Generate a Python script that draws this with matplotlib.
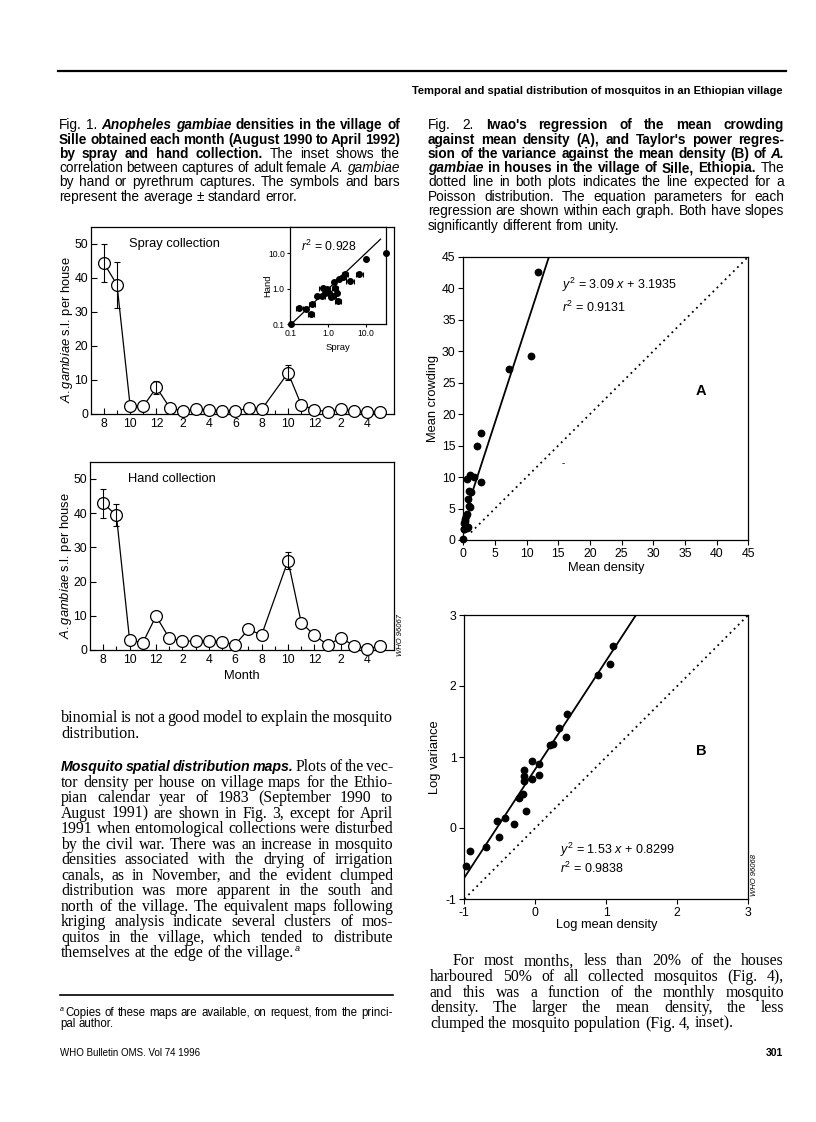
import matplotlib
matplotlib.use('Agg')
import matplotlib.pyplot as plt
from matplotlib.font_manager import FontProperties
from matplotlib.lines import Line2D
import numpy as np

# ---------------- data ----------------
# Fig. 1: month index 0 = August 1990 (September 1991 missing)
month_index = [0, 1, 2, 3, 4, 5, 6, 7, 8, 9, 10, 11, 12, 14, 15, 16, 17, 18, 19, 20, 21]
month_tick_pos = [0, 2, 4, 6, 8, 10, 12, 14, 16, 18, 20]
month_tick_labels = ['8', '10', '12', '2', '4', '6', '8', '10', '12', '2', '4']

spray_mean = [44.4, 38.0, 2.3, 2.3, 7.8, 1.9, 0.9, 1.4, 1.2, 1.0, 0.8, 1.8, 1.4,
              12.1, 2.7, 1.3, 0.6, 1.5, 0.8, 0.7, 0.7]
# standard errors (0 = bar hidden inside the symbol)
spray_se = [5.5, 6.7, 0, 0, 2.0, 0, 0, 0, 0, 0, 0, 0, 0,
            2.2, 0, 0, 0, 0, 0, 0, 0]

hand_mean = [42.9, 39.3, 2.9, 2.1, 9.9, 3.5, 2.6, 2.6, 2.7, 2.4, 1.6, 6.0, 4.4,
             26.1, 8.0, 4.3, 1.5, 3.5, 1.3, 0.4, 1.1]
hand_se = [4.2, 3.2, 0, 0, 0, 0, 0, 0, 0, 0, 0, 0, 0,
           2.4, 0, 0, 0, 0, 0, 0, 0]

# Fig. 1 inset (log-log, spray vs hand)
inset_spray = [0.1, 0.167, 0.25, 0.34, 0.36, 0.49, 0.67, 0.73, 0.82, 0.9, 1.06, 1.16,
               1.36, 1.54, 1.68, 1.85, 1.42, 1.97, 2.43, 2.86, 3.8, 6.8, 10.5, 35.0]
inset_hand = [0.1, 0.29, 0.27, 0.2, 0.37, 0.63, 0.63, 1.08, 0.75, 0.97, 0.75, 0.6,
              0.64, 1.08, 0.78, 0.46, 1.55, 1.85, 2.1, 2.56, 1.66, 2.56, 6.9, 10.0]
inset_err_factor = [1.0, 1.25, 1.0, 1.2, 1.2, 1.0, 1.25, 1.3, 1.0, 1.2, 1.0, 1.0,
                    1.15, 1.2, 1.0, 1.2, 1.0, 1.0, 1.2, 1.2, 1.25, 1.25, 1.0, 1.0]
inset_tick_vals = [0.1, 1.0, 10.0]
inset_tick_labels = ['0.1', '1.0', '10.0']

# Fig. 2A: Iwao's regression
A_density = [11.74, 10.68, 7.2, 2.74, 2.1, 2.74, 1.74, 1.05, 0.53, 0.9, 1.2, 0.68,
             0.95, 1.05, 0.63, 0.32, 0.16, 0.16, 0.79, 0.53, 0.0, 0.42, 0.26, 0.1]
A_crowding = [42.6, 29.2, 27.1, 17.05, 15.0, 9.2, 10.06, 10.4, 9.7, 7.8, 7.6, 6.46,
              5.45, 5.3, 4.2, 3.3, 2.65, 1.75, 2.1, 1.85, 0.16, 3.8, 3.0, 1.7]
A_slope, A_icpt = 3.09, 3.1935
A_ticks = [0, 5, 10, 15, 20, 25, 30, 35, 40, 45]

# Fig. 2B: Taylor's power law
B_logdensity = [1.089, 1.056, 0.878, 0.451, 0.432, 0.333, 0.254, 0.211, 0.052, 0.047,
                -0.047, -0.047, -0.164, -0.155, -0.164, -0.169, -0.225, -0.127, -0.305,
                -0.423, -0.540, -0.516, -0.690, -0.925, -0.977]
B_logvar = [2.563, 2.305, 2.160, 1.606, 1.286, 1.404, 1.183, 1.169, 0.897, 0.746,
            0.948, 0.690, 0.817, 0.737, 0.657, 0.474, 0.423, 0.239, 0.052,
            0.136, 0.099, -0.131, -0.263, -0.329, -0.535]
B_slope, B_icpt = 1.53, 0.8299
B_ticks = [-1, 0, 1, 2, 3]

# ---------------- setup ----------------
W, H = 816, 1122
plt.rcParams['font.family'] = ['Liberation Sans', 'DejaVu Sans']
plt.rcParams['mathtext.fontset'] = 'custom'
plt.rcParams['mathtext.rm'] = 'Liberation Sans'
plt.rcParams['mathtext.it'] = 'Liberation Sans:italic'
plt.rcParams['mathtext.bf'] = 'Liberation Sans:bold'
plt.rcParams['axes.linewidth'] = 0.9
plt.rcParams['axes.unicode_minus'] = False

fig = plt.figure(figsize=(W / 100, H / 100), dpi=100)
fig.patch.set_facecolor('white')
renderer = fig.canvas.get_renderer()


def ax_at(l, t, r, b):
    return fig.add_axes([l / W, 1 - b / H, (r - l) / W, (b - t) / H])


def hline(x0, x1, y, lw):
    fig.add_artist(Line2D([x0 / W, x1 / W], [1 - y / H, 1 - y / H],
                          transform=fig.transFigure, color='black', lw=lw))


def P(st, s, serif):
    use_serif = serif and 's' not in st
    if not use_serif and serif:
        s = s * 0.9
    fam = 'Liberation Serif' if use_serif else 'Liberation Sans'
    return FontProperties(family=fam, weight='bold' if 'b' in st else 'normal',
                          style='italic' if 'i' in st else 'normal', size=s)


def tw(t, st, s, serif):
    return renderer.get_text_width_height_descent(t, P(st, s, serif), ismath=False)[0]


def words(line):
    out = []
    for text, st in line:
        for w in text.split(' '):
            if w:
                out.append((w, st))
    return out


def draw_block(lines, x0, x1, centers, size, serif=False, indents=None, min_space=0.5):
    indents = indents or {}
    sp0 = tw('n n', 'n', size, serif) - tw('nn', 'n', size, serif)
    ratio = 1.0
    for k, line in enumerate(lines):
        ws = words(line)
        avail = x1 - x0 - indents.get(k, 0)
        nat = sum(tw(w, st, size, serif) for w, st in ws) + (len(ws) - 1) * min_space * sp0
        ratio = min(ratio, avail / nat)
    s = round(size * ratio, 2)
    sp = tw('n n', 'n', s, serif) - tw('nn', 'n', s, serif)
    end_x = x0
    for k, line in enumerate(lines):
        ws = words(line)
        xs = x0 + indents.get(k, 0)
        avail = x1 - xs
        wid = [tw(w, st, s, serif) for w, st in ws]
        last = (k == len(lines) - 1)
        if len(ws) > 1 and not last:
            gap = (avail - sum(wid)) / (len(ws) - 1)
        else:
            gap = sp
        base = centers[k] + 0.34 * s * 100 / 72
        x = xs
        for (w, st), wd in zip(ws, wid):
            fig.text(x / W, 1 - base / H, w, fontproperties=P(st, s, serif),
                     ha='left', va='baseline', color='black')
            x += wd + gap
        end_x = x - gap
    return s, end_x


def fit_text(text, st, x_right, x_left, y_base, size):
    w = tw(text, st, size, False)
    s = size * min(1.0, (x_right - x_left) / w)
    fig.text(x_right / W, 1 - y_base / H, text, fontproperties=P(st, s, False),
             ha='right', va='baseline')


# ---------------- page text ----------------
hline(58, 786, 71, 1.6)
fit_text('Temporal and spatial distribution of mosquitos in an Ethiopian village', 'b',
         783, 414, 94, 9.5)

cap1 = [
    [('Fig. 1.', 'n'), ('Anopheles gambiae', 'bi'), ('densities in the village of', 'b')],
    [('Sille obtained each month (August 1990 to April 1992)', 'b')],
    [('by spray and hand collection.', 'b'), ('The inset shows the', 'n')],
    [('correlation between captures of adult female', 'n'), ('A. gambiae', 'i')],
    [('by hand or pyrethrum captures. The symbols and bars', 'n')],
    [('represent the average \u00b1 standard error.', 'n')],
]
draw_block(cap1, 59, 400, [124.3, 139, 153.3, 167.7, 181.7, 196], 9.8, min_space=0.5)

cap2 = [
    [('Fig. 2.', 'n'), ("Iwao's regression of the mean crowding", 'b')],
    [("against mean density (A), and Taylor's power regres-", 'b')],
    [('sion of the variance against the mean density (B) of', 'b'), ('A.', 'bi')],
    [('gambiae', 'bi'), ('in houses in the village of Sille, Ethiopia.', 'b'), ('The', 'n')],
    [('dotted line in both plots indicates the line expected for a', 'n')],
    [('Poisson distribution. The equation parameters for each', 'n')],
    [('regression are shown within each graph. Both have slopes', 'n')],
    [('significantly different from unity.', 'n')],
]
draw_block(cap2, 428, 784, [124, 139, 153.3, 167.7, 181.7, 196, 210, 225], 9.8, min_space=0.5)

body1 = [
    [('binomial is not a good model to explain the mosquito', 'n')],
    [('distribution.', 'n')],
]
draw_block(body1, 61, 393, [717, 732.7], 11.6, serif=True, min_space=0.5)

body2 = [
    [('Mosquito spatial distribution maps.', 'sbi'), ('Plots of the vec-', 'n')],
    [('tor density per house on village maps for the Ethio-', 'n')],
    [('pian calendar year of 1983 (September 1990 to', 'n')],
    [('August 1991) are shown in Fig. 3, except for April', 'n')],
    [('1991 when entomological collections were disturbed', 'n')],
    [('by the civil war. There was an increase in mosquito', 'n')],
    [('densities associated with the drying of irrigation', 'n')],
    [('canals, as in November, and the evident clumped', 'n')],
    [('distribution was more apparent in the south and', 'n')],
    [('north of the village. The equivalent maps following', 'n')],
    [('kriging analysis indicate several clusters of mos-', 'n')],
    [('quitos in the village, which tended to distribute', 'n')],
    [('themselves at the edge of the village.', 'n')],
]
c2 = [765.7 + 15.5 * k for k in range(len(body2))]
bsize, bend = draw_block(body2, 61, 393, c2, 11.6, serif=True, min_space=0.5)
fig.text((bend + 1) / W, 1 - (c2[-1] - 1) / H, 'a', fontproperties=P('i', 6.5, False),
         ha='left', va='baseline')

body3 = [
    [('For most months, less than 20% of the houses', 'n')],
    [('harboured 50% of all collected mosquitos (Fig. 4),', 'n')],
    [('and this was a function of the monthly mosquito', 'n')],
    [('density. The larger the mean density, the less', 'n')],
    [('clumped the mosquito population (Fig. 4, inset).', 'n')],
]
draw_block(body3, 430, 784, [960 + 15.6 * k for k in range(5)], bsize, serif=True,
           indents={0: 23}, min_space=0.5)

hline(60, 393, 995, 1.2)
fig.text(60 / W, 1 - 1011 / H, 'a', fontproperties=P('i', 5, False), ha='left', va='baseline')
foot = [
    [('Copies of these maps are available, on request, from the princi-', 'n')],
    [('pal author.', 'n')],
]
draw_block(foot, 65, 393, [1011.7, 1023.3], 8.3, indents={1: -5})

fig.text(60 / W, 1 - 1056 / H, 'WHO Bulletin OMS. Vol 74 1996', fontproperties=P('n', 7, False),
         ha='left', va='baseline')
fig.text(783 / W, 1 - 1056 / H, '301', fontproperties=P('b', 7.5, False), ha='right', va='baseline')

# ---------------- Fig. 1 panels ----------------
TICK_FS = 8.8


def month_axes(ax, title, with_month_label):
    ax.set_xlim(-1.0, 22.05)
    ax.set_ylim(0, 55)
    ax.set_xticks(month_tick_pos)
    ax.set_xticklabels(month_tick_labels)
    ax.set_xticks(range(0, 22), minor=True)
    ax.set_yticks([0, 10, 20, 30, 40, 50])
    ax.tick_params(direction='in', length=4, width=0.8, labelsize=TICK_FS, pad=3)
    ax.tick_params(axis='x', which='minor', direction='in', length=3, width=0.8)
    ax.tick_params(axis='y', pad=2)
    ax.text(-0.078, 0.45, r'$\mathit{A.gambiae}$ s.l. per house', transform=ax.transAxes,
            rotation=90, ha='center', va='center', fontsize=9.3)
    ax.text(0.125, 0.91, title, transform=ax.transAxes, ha='left', va='center', fontsize=9.3)
    if with_month_label:
        ax.text(0.5, -0.14, 'Month', transform=ax.transAxes, ha='center', va='center', fontsize=9.3)


def month_series(ax, mean, se):
    ax.plot(month_index, mean, '-o', color='black', mfc='white', mec='black', ms=8.5,
            mew=0.9, lw=0.9, clip_on=False, zorder=3)
    xi = [m for m, e in zip(month_index, se) if e > 0]
    yi = [v for v, e in zip(mean, se) if e > 0]
    ei = [e for e in se if e > 0]
    ax.errorbar(xi, yi, yerr=ei, fmt='none', ecolor='black', elinewidth=0.8, capsize=2.5,
                capthick=0.8, zorder=4)


ax1 = ax_at(90.7, 227, 394, 414)
month_series(ax1, spray_mean, spray_se)
month_axes(ax1, 'Spray collection', False)

ax2 = ax_at(90, 461.7, 394.3, 650)
month_series(ax2, hand_mean, hand_se)
month_axes(ax2, 'Hand collection', True)
fig.text(401 / W, 1 - 635 / H, 'WHO 96067', rotation=90, ha='center', va='center',
         fontproperties=P('i', 5.5, False))

# inset
axi = ax_at(290, 227, 386, 324.3)
axi.set_xscale('log')
axi.set_yscale('log')
axi.set_xlim(0.094, 35)
axi.set_ylim(0.1, 55)
ix = np.array(inset_spray)
iy = np.array(inset_hand)
ifac = np.array(inset_err_factor)
xerr = np.vstack([ix - ix / ifac, ix * ifac - ix])
axi.errorbar(ix, iy, xerr=xerr, fmt='o', color='black', ms=4, elinewidth=0.8,
             capsize=1.8, capthick=0.8, clip_on=False)
one_to_one = np.array([0.1, 25.0])
axi.plot(one_to_one, one_to_one, color='black', lw=0.9)
axi.set_xticks(inset_tick_vals)
axi.set_xticklabels(inset_tick_labels)
axi.set_yticks(inset_tick_vals)
axi.set_yticklabels(inset_tick_labels)
axi.minorticks_off()
axi.tick_params(direction='out', length=2.5, width=0.8, labelsize=6.2, pad=1.2)
axi.text(0.5, -0.235, 'Spray', transform=axi.transAxes, ha='center', va='center', fontsize=6.8)
axi.text(-0.235, 0.4, 'Hand', transform=axi.transAxes, ha='center', va='center',
         rotation=90, fontsize=6.8)
axi.text(0.11, 0.8, r'$r^2$ = 0.928', transform=axi.transAxes, ha='left', va='center', fontsize=8.8)

# ---------------- Fig. 2 panels ----------------
axA = ax_at(463.3, 256.7, 748.3, 540)
axA.set_xlim(0, 45)
axA.set_ylim(0, 45)
axA.plot(A_density, A_crowding, 'o', color='black', ms=4.6, clip_on=False, zorder=3)
ax_fit = np.array([0.9, (45 - A_icpt) / A_slope])
axA.plot(ax_fit, A_slope * ax_fit + A_icpt, color='black', lw=1.3)
pois_A = np.array([1.2, 45.0])
axA.plot(pois_A, pois_A, color='black', lw=1.3, linestyle=(0, (1, 2.2)))
axA.set_xticks(A_ticks)
axA.set_yticks(A_ticks)
axA.tick_params(direction='out', length=3.5, width=0.8, labelsize=TICK_FS, pad=2)
axA.text(0.5, -0.1, 'Mean density', transform=axA.transAxes, ha='center', va='center', fontsize=9.3)
axA.text(-0.106, 0.5, 'Mean crowding', transform=axA.transAxes, ha='center', va='center',
         rotation=90, fontsize=9.3)
axA.text(0.345, 0.9, r'$y^2$ = 3.09 $x$ + 3.1935', transform=axA.transAxes, ha='left',
         va='center', fontsize=9)
axA.text(0.345, 0.822, r'$r^2$ = 0.9131', transform=axA.transAxes, ha='left', va='center', fontsize=9)
axA.text(0.834, 0.525, 'A', transform=axA.transAxes, ha='center', va='center',
         fontsize=10.5, fontweight='bold')
axA.text(0.352, 0.27, '-', transform=axA.transAxes, ha='center', va='center', fontsize=7)

axB = ax_at(464.3, 615, 748.3, 899)
axB.set_xlim(-1, 3)
axB.set_ylim(-1, 3)
axB.plot(B_logdensity, B_logvar, 'o', color='black', ms=4.6, clip_on=False, zorder=3)
bx_fit = np.array([-1.0, (3 - B_icpt) / B_slope])
axB.plot(bx_fit, B_slope * bx_fit + B_icpt, color='black', lw=1.3)
pois_B = np.array([-1.0, 3.0])
axB.plot(pois_B, pois_B, color='black', lw=1.3, linestyle=(0, (1, 2.2)))
axB.set_xticks(B_ticks)
axB.set_yticks(B_ticks)
axB.tick_params(direction='out', length=3.5, width=0.8, labelsize=TICK_FS, pad=2)
axB.text(0.5, -0.092, 'Log mean density', transform=axB.transAxes, ha='center', va='center',
         fontsize=9.3)
axB.text(-0.103, 0.5, 'Log variance', transform=axB.transAxes, ha='center', va='center',
         rotation=90, fontsize=9.3)
axB.text(0.338, 0.172, r'$y^2$ = 1.53 $x$ + 0.8299', transform=axB.transAxes, ha='left',
         va='center', fontsize=9)
axB.text(0.338, 0.108, r'$r^2$ = 0.9838', transform=axB.transAxes, ha='left', va='center', fontsize=9)
axB.text(0.834, 0.52, 'B', transform=axB.transAxes, ha='center', va='center',
         fontsize=10.5, fontweight='bold')
fig.text(755 / W, 1 - 875 / H, 'WHO 96068', rotation=90, ha='center', va='center',
         fontproperties=P('i', 5.5, False))

fig.savefig('out.png', dpi=100, facecolor='white')
